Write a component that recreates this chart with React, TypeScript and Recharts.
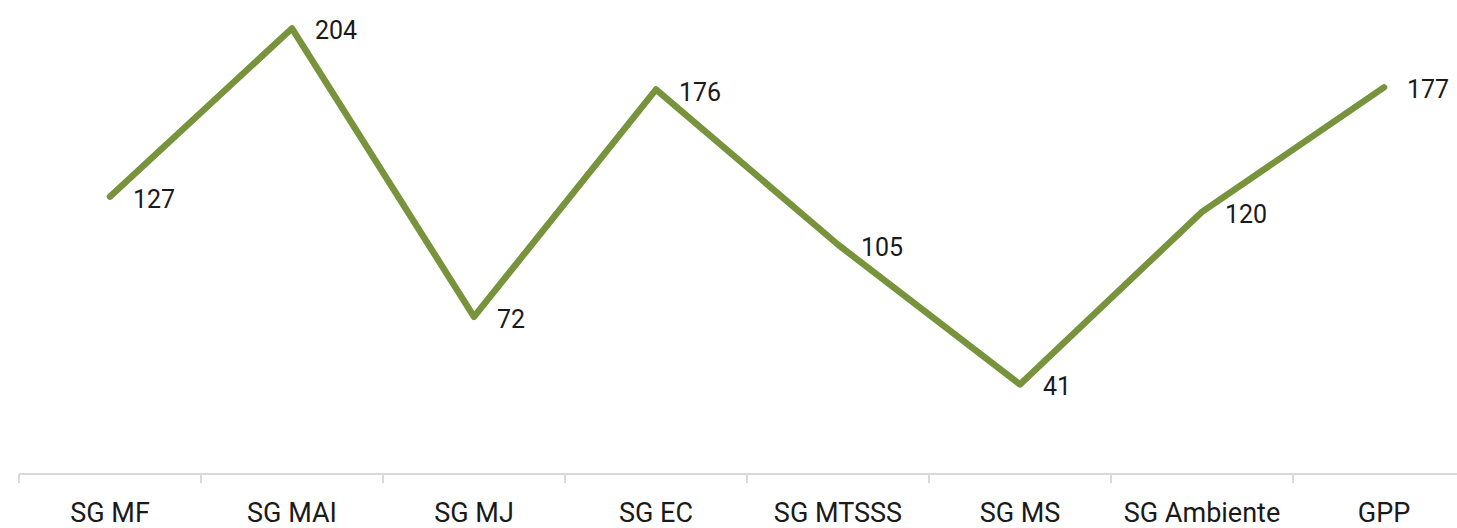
import { LineChart, Line, XAxis, YAxis } from 'recharts';

// Organismos e respetivos totais
const categories = ['SG MF', 'SG MAI', 'SG MJ', 'SG EC', 'SG MTSSS', 'SG MS', 'SG Ambiente', 'GPP'];
const totals = [127, 204, 72, 176, 105, 41, 120, 177];

const data = categories.map((name, i) => ({ name, total: totals[i] }));

if (typeof document !== 'undefined') {
    document.body.style.margin = '0';
}

const FONT = 'Roboto, "Noto Sans", sans-serif';
const AXIS_COLOR = '#d9d9d9';
const LINE_COLOR = '#77933c';
const BAND = 182;

// Category label plus a boundary tick line on the left of each band
function CategoryTick(props: any) {
    const { x, y, payload } = props;
    return (
        <g>
            <line x1={x - BAND / 2} y1={y - 8} x2={x - BAND / 2} y2={y + 1} stroke={AXIS_COLOR} strokeWidth={2} />
            <text x={x} y={y + 40} textAnchor="middle" fontSize={27} fontFamily={FONT} fill="#1a1a1a">
                {payload.value}
            </text>
        </g>
    );
}

function ValueLabel(props: any) {
    const { x, y, value } = props;
    return (
        <text x={x + 23} y={y + 11} fontSize={25} fontFamily={FONT} fill="#1a1a1a">
            {value}
        </text>
    );
}

export default function App() {
    return (
        <div style={{ width: 1457, height: 528, overflow: 'hidden', background: '#fff' }}>
            <LineChart width={1490} height={528} data={data} margin={{ top: 0, right: 15, bottom: 0, left: 19 }}>
                <XAxis
                    dataKey="name"
                    height={54}
                    padding={{ left: BAND / 2, right: BAND / 2 }}
                    axisLine={{ stroke: AXIS_COLOR, strokeWidth: 2 }}
                    tickLine={false}
                    tick={<CategoryTick />}
                    interval={0}
                />
                <YAxis hide domain={[0, 217]} />
                <Line
                    type="linear"
                    dataKey="total"
                    stroke={LINE_COLOR}
                    strokeWidth={6.5}
                    strokeLinecap="round"
                    strokeLinejoin="round"
                    dot={false}
                    isAnimationActive={false}
                    label={<ValueLabel />}
                />
            </LineChart>
        </div>
    );
}
